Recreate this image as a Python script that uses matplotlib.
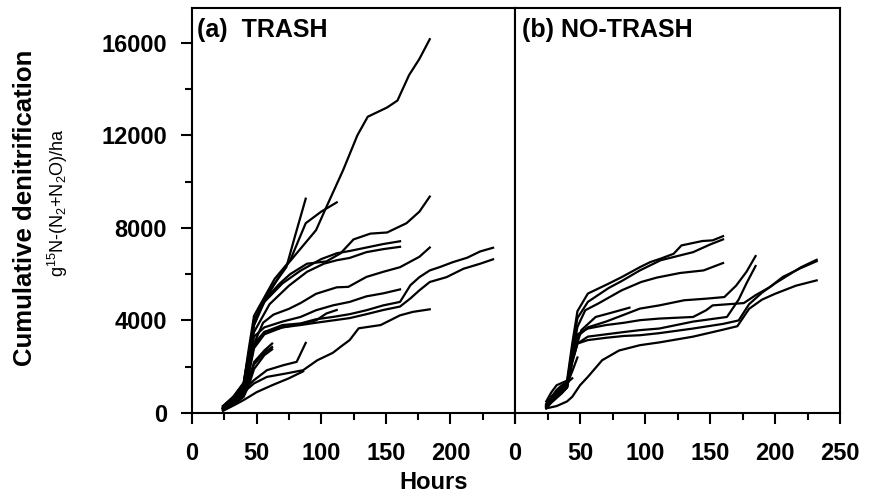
import matplotlib
matplotlib.use('Agg')
import matplotlib.pyplot as plt
from matplotlib.ticker import MultipleLocator

plt.rcParams['font.family'] = ['Liberation Sans', 'DejaVu Sans']
plt.rcParams['font.weight'] = 'bold'
plt.rcParams['mathtext.default'] = 'regular'

# (a) TRASH - cumulative denitrification per chamber, hours vs g 15N/ha
trash_hours = [
    [24, 32, 40, 44, 48, 56, 64, 72, 84, 96, 104, 117, 128, 136, 151, 159, 168, 176, 184],
    [24, 32, 40, 44, 48, 56, 64, 73, 80, 88],
    [24, 32, 40, 44, 48, 56, 64, 76, 88, 100, 112],
    [24, 32, 40, 44, 48, 58, 68, 76, 89, 104, 115, 125, 138, 151, 166, 176, 184],
    [24, 32, 40, 44, 48, 56, 70, 84, 100, 112, 122, 135, 148, 161],
    [24, 32, 40, 44, 48, 60, 75, 89, 102, 112, 122, 135, 148, 161],
    [24, 32, 40, 44, 48, 55, 63, 75, 84, 96, 112, 121, 135, 148, 161, 176, 184],
    [24, 32, 40, 44, 48, 56, 70, 84, 96, 109, 122, 135, 148, 161, 165, 169, 176, 184, 192, 202, 213, 223, 233],
    [24, 32, 40, 44, 48, 56, 70, 84, 96, 109, 122, 135, 148, 161, 169, 176, 184, 197, 210, 223, 233],
    [24, 32, 40, 44, 48, 56, 70, 84, 96, 109, 122, 135, 148, 161],
    [24, 32, 40, 44, 48, 56, 70, 84, 96, 104, 112],
    [24, 32, 40, 44, 48, 56, 62],
    [24, 32, 40, 44, 48, 56, 62],
    [24, 32, 40, 44, 48, 56, 62],
    [24, 32, 40, 48, 58, 71, 81, 88],
    [24, 30, 40, 48, 58, 73, 86, 97, 109, 115, 122, 129, 146, 161, 171, 184],
    [24, 33, 40, 50, 62, 75, 86],
]
trash_values = [
    [300, 700, 1300, 2600, 4000, 4870, 5590, 6300, 7100, 7900, 8900, 10500, 12000, 12800, 13200, 13500, 14600, 15300, 16150],
    [200, 600, 1200, 2400, 3800, 4900, 5600, 6300, 7700, 9260],
    [250, 650, 1300, 2800, 4200, 5000, 5800, 6600, 8200, 8700, 9100],
    [250, 600, 1100, 2500, 4000, 5000, 5600, 6000, 6450, 6550, 6900, 7500, 7750, 7800, 8200, 8700, 9350],
    [300, 700, 1300, 2600, 3800, 4800, 5600, 6150, 6650, 6900, 7000, 7150, 7300, 7420],
    [200, 500, 1100, 2300, 3500, 4700, 5500, 6100, 6450, 6600, 6700, 6950, 7080, 7180],
    [200, 500, 1100, 2200, 3000, 3900, 4250, 4500, 4750, 5150, 5430, 5450, 5880, 6100, 6300, 6750, 7150],
    [150, 450, 900, 1800, 2900, 3500, 3800, 3870, 4050, 4150, 4270, 4440, 4650, 4800, 5160, 5520, 5870, 6160, 6310, 6520, 6710, 6980, 7140],
    [200, 500, 1000, 2000, 3000, 3500, 3700, 3800, 3900, 4000, 4100, 4270, 4450, 4600, 4950, 5300, 5660, 5870, 6230, 6450, 6640],
    [250, 600, 1100, 2200, 3300, 3700, 3950, 4150, 4440, 4650, 4800, 5040, 5170, 5340],
    [200, 500, 900, 1700, 2800, 3400, 3700, 3850, 4000, 4300, 4450],
    [150, 400, 800, 1400, 2200, 2700, 3000],
    [200, 500, 900, 1500, 2100, 2600, 2850],
    [100, 350, 700, 1200, 1900, 2500, 2750],
    [200, 700, 1000, 1420, 1850, 2070, 2210, 3030],
    [200, 500, 900, 1280, 1560, 1710, 1850, 2280, 2600, 2860, 3150, 3660, 3800, 4220, 4370, 4480],
    [100, 350, 560, 900, 1200, 1500, 1800],
]

# (b) NO-TRASH
notrash_hours = [
    [24, 28, 32, 36, 40, 44, 48, 56, 72, 82, 96, 104, 112, 122, 128, 144, 152, 160],
    [24, 28, 32, 36, 40, 44, 48, 56, 72, 82, 96, 112, 127, 137, 150, 160],
    [24, 28, 32, 36, 40, 44, 48, 54, 64, 82, 97, 109, 127, 145, 160],
    [24, 28, 32, 36, 40, 44, 51, 62, 72, 88],
    [24, 28, 32, 36, 40, 44, 48, 56, 70, 84, 96, 111, 130, 147, 161, 170, 178, 185],
    [24, 28, 32, 36, 40, 44, 48, 56, 70, 84, 96, 111, 137, 150, 163, 172, 178, 185],
    [24, 28, 32, 36, 40, 44, 48, 56, 70, 84, 96, 111, 137, 147, 152, 176, 185, 196, 206, 219, 232],
    [24, 28, 32, 36, 40, 44, 48, 56, 70, 84, 96, 111, 137, 160, 172, 180, 190, 200, 210, 220, 232],
    [24, 32, 40, 44, 50, 56, 67, 80, 96, 111, 137, 160, 171, 180, 190, 200, 216, 232],
    [24, 28, 32, 36, 40],
    [24, 28, 32, 36, 40, 44],
    [24, 28, 32, 36, 40, 44, 48],
]
notrash_values = [
    [400, 700, 900, 1100, 1400, 3000, 4400, 5160, 5590, 5870, 6300, 6520, 6670, 6880, 7240, 7430, 7460, 7640],
    [300, 600, 800, 1000, 1300, 2800, 4100, 4800, 5400, 5700, 6160, 6600, 6810, 6950, 7280, 7500],
    [350, 600, 800, 1000, 1200, 2500, 3720, 4440, 4730, 5300, 5660, 5850, 6050, 6160, 6480],
    [300, 500, 700, 900, 1100, 2300, 3580, 4150, 4300, 4550],
    [350, 600, 800, 1000, 1200, 2400, 3300, 3700, 3950, 4250, 4510, 4650, 4870, 4940, 5010, 5500, 6100, 6780],
    [250, 500, 700, 900, 1100, 2200, 3000, 3300, 3400, 3500, 3580, 3650, 3950, 4050, 4150, 4900, 5600, 6350],
    [300, 500, 700, 900, 1150, 2500, 3400, 3650, 3800, 3900, 4010, 4080, 4150, 4440, 4650, 4750, 5090, 5440, 5880, 6240, 6560],
    [200, 450, 650, 850, 1100, 2200, 3000, 3150, 3250, 3330, 3360, 3450, 3650, 3850, 4000, 4700, 5200, 5600, 5950, 6300, 6620],
    [200, 300, 500, 700, 1200, 1560, 2280, 2700, 2930, 3050, 3300, 3600, 3750, 4500, 4900, 5150, 5500, 5730],
    [500, 900, 1200, 1300, 1400],
    [300, 700, 1000, 1200, 1300, 1500],
    [250, 550, 850, 1050, 1250, 1800, 2400],
]

fig = plt.figure(figsize=(8.7, 4.97), dpi=100)
ax1 = fig.add_axes([0.2207, 0.169, 0.3713, 0.815])
ax2 = fig.add_axes([0.592, 0.169, 0.3736, 0.815])

for xs, ys in zip(trash_hours, trash_values):
    ax1.plot(xs, ys, color='black', lw=1.6)
for xs, ys in zip(notrash_hours, notrash_values):
    ax2.plot(xs, ys, color='black', lw=1.6)

for ax in (ax1, ax2):
    ax.set_xlim(0, 250)
    ax.set_ylim(0, 17500)
    ax.set_xticks([0, 50, 100, 150, 200, 250])
    ax.xaxis.set_minor_locator(MultipleLocator(25))
    ax.yaxis.set_major_locator(MultipleLocator(4000))
    ax.yaxis.set_minor_locator(MultipleLocator(2000))
    ax.tick_params(which='major', direction='out', length=8, width=1.5,
                   labelsize=17, pad=13)
    ax.tick_params(which='minor', direction='out', length=5, width=1.5)
    for sp in ax.spines.values():
        sp.set_linewidth(1.5)

ax1.set_xticklabels(['0', '50', '100', '150', '200', ''])
ax1.tick_params(axis='y', which='major', pad=10)
ax2.tick_params(axis='y', which='both', left=False, labelleft=False)

ax1.text(0.015, 0.928, '(a)  TRASH', transform=ax1.transAxes,
         fontsize=18, fontweight='bold', va='baseline')
ax2.text(0.02, 0.928, '(b) NO-TRASH', transform=ax2.transAxes,
         fontsize=18, fontweight='bold', va='baseline')

fig.text(0.498, 0.03, 'Hours', ha='center', va='center', fontsize=17,
         fontweight='bold')
fig.text(0.029, 0.581, 'Cumulative denitrification', rotation=90,
         ha='center', va='center', fontsize=18.5, fontweight='bold')
fig.text(0.067, 0.592, r'g$^{15}$N-(N$_2$+N$_2$O)/ha', rotation=90,
         ha='center', va='center', fontsize=13, fontweight='normal')

fig.savefig('out.png', dpi=100)
